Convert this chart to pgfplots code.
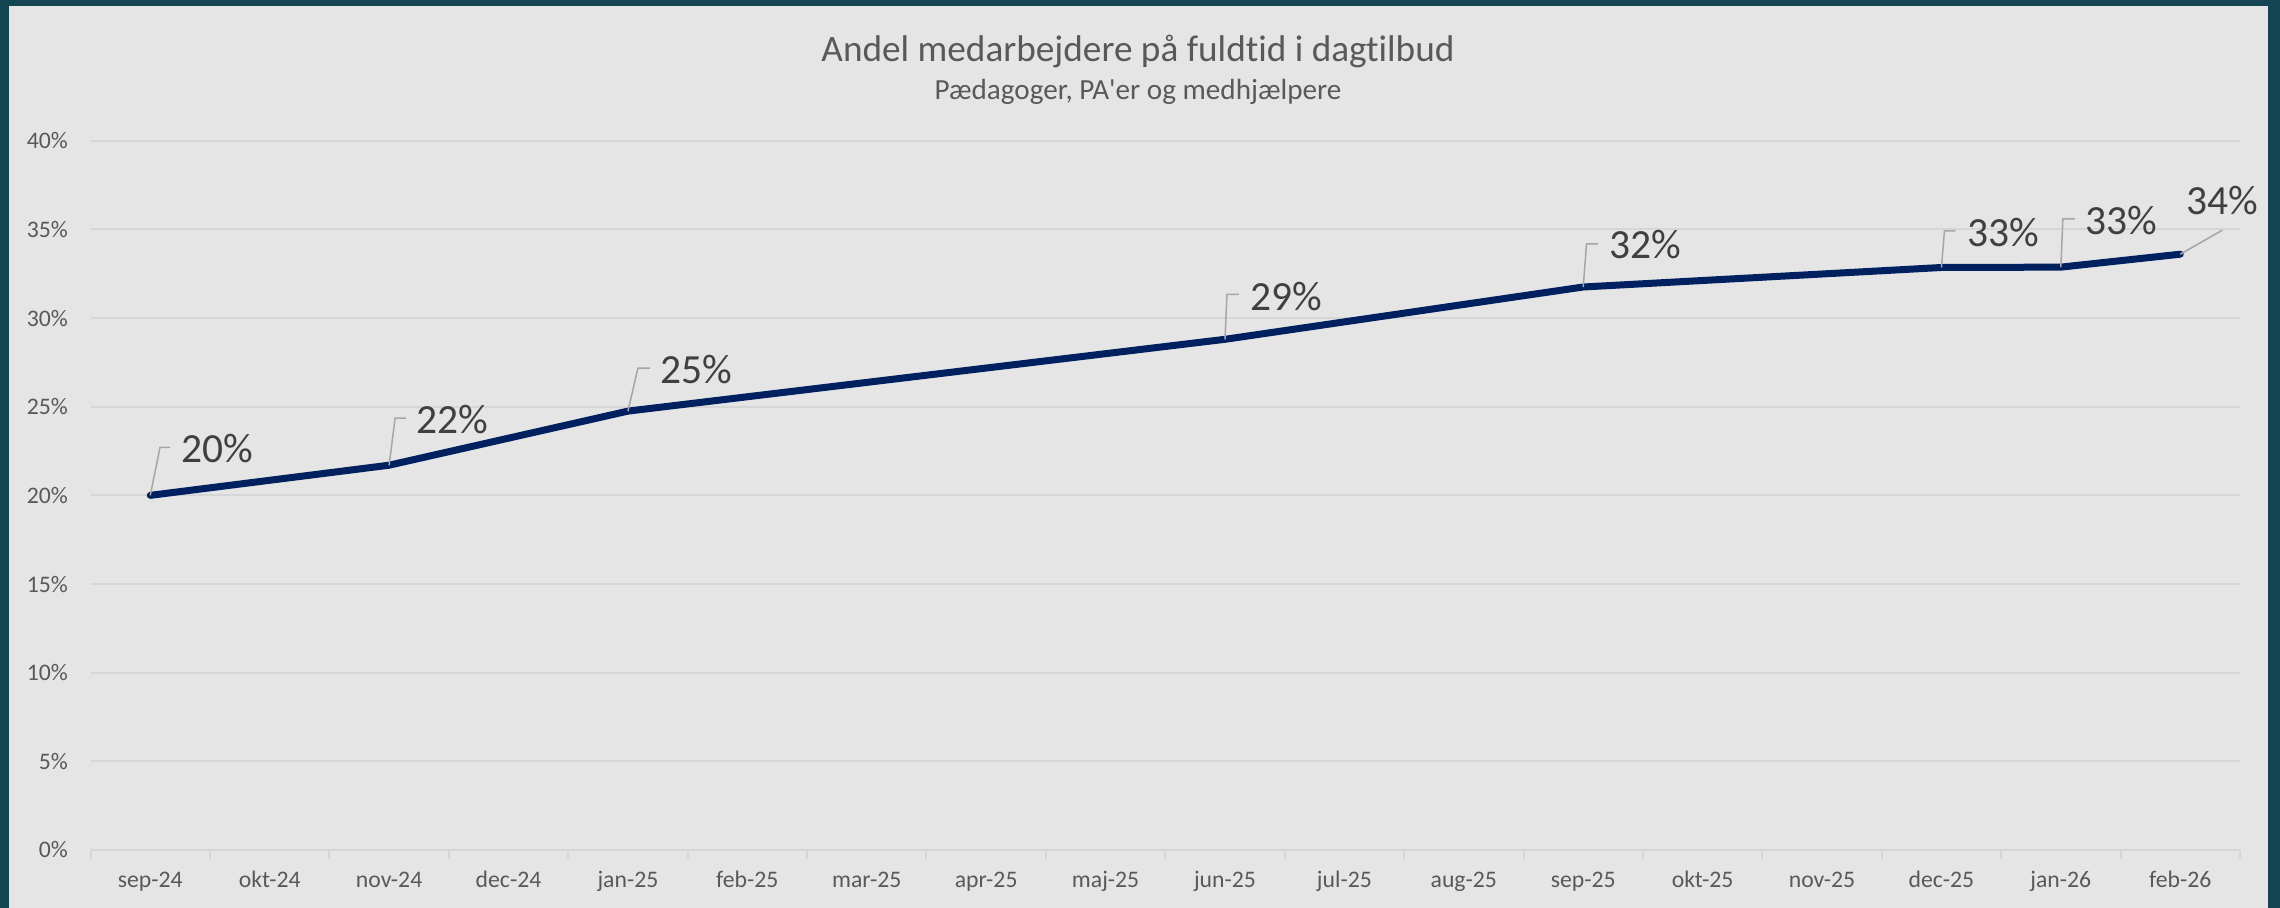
\documentclass[border=0pt]{standalone}
\usepackage{fontspec}
\setmainfont{Carlito}[Ligatures=NoCommon]
\newfontfamily\carlito{Carlito}[Ligatures=NoCommon]
\usepackage{pgfplots}
\pgfplotsset{compat=1.18}
\definecolor{frame}{RGB}{20,69,82}
\definecolor{bg}{RGB}{229,229,229}
\definecolor{gridc}{RGB}{214,214,214}
\definecolor{ticktext}{RGB}{89,89,89}
\definecolor{labeltext}{RGB}{64,64,64}
\definecolor{navy}{RGB}{0,32,96}
\definecolor{leaderc}{RGB}{166,166,166}
\pgfplotstableread{
x y
0 20.0
2 21.7
4 24.75
9 28.8
12 31.75
15 32.85
16 32.87
17 33.6
}\datatable
\begin{document}
\begin{tikzpicture}[x=0.1mm,y=0.1mm,
  leader/.style={draw=leaderc, line width=0.15mm},
  lbl/.style={anchor=base west, inner sep=0pt, text=labeltext, font=\carlito\fontsize{11.8}{13}\selectfont}]
\fill[frame] (0,0) rectangle (2280,908);
\fill[bg] (9,0) rectangle (2268,902);
\useasboundingbox (0,0) rectangle (2280,908);
\node[anchor=base, inner sep=0pt, text=ticktext, font=\carlito\fontsize{10.6}{12}\selectfont] at (1138,846.3) {Andel medarbejdere på fuldtid i dagtilbud};
\node[anchor=base, inner sep=0pt, text=ticktext, font=\carlito\fontsize{8.3}{10}\selectfont] at (1138,808) {Pædagoger, PA'er og medhjælpere};
\begin{axis}[at={(9.06mm,5.8mm)}, anchor=south west, scale only axis,
  width=214.94mm, height=70.93mm,
  xmin=-0.5, xmax=17.5, ymin=0, ymax=40,
  clip=false,
  axis line style={draw=none},
  ytick={0,5,10,15,20,25,30,35,40},
  yticklabels={0\%,5\%,10\%,15\%,20\%,25\%,30\%,35\%,40\%},
  xtick={0,1,...,17},
  xticklabels={sep-24,okt-24,nov-24,dec-24,jan-25,feb-25,mar-25,apr-25,maj-25,jun-25,jul-25,aug-25,sep-25,okt-25,nov-25,dec-25,jan-26,feb-26},
  minor xtick={-0.5,0.5,...,17.5},
  tick pos=left, tick align=outside,
  major tick length=0pt, minor tick length=0.9mm,
  minor x tick style={draw=gridc, line width=0.2mm},
  ymajorgrids, major grid style={draw=gridc, line width=0.2mm},
  ticklabel style={text=ticktext, font=\carlito\fontsize{6.75}{8}\selectfont},
  xticklabel style={anchor=base, inner sep=0pt, yshift=-3.8mm},
  yticklabel style={anchor=east, inner sep=0pt, xshift=-2.2mm},
]
\addplot[navy, line width=0.7mm, line join=round, line cap=round] table[x=x, y=y] {\datatable};
\draw[leader] (axis cs:0,20.0) -- ++(0.97mm,4.8mm) -- ++(1mm,0mm) node[lbl, xshift=1.1mm, yshift=-1.5mm]{20\%};
\draw[leader] (axis cs:2,21.7) -- ++(0.6mm,4.7mm) -- ++(1.1mm,0mm) node[lbl, xshift=1.0mm, yshift=-1.5mm]{22\%};
\draw[leader] (axis cs:4,24.75) -- ++(1.0mm,4.3mm) -- ++(1.2mm,0mm) node[lbl, xshift=1.0mm, yshift=-1.57mm]{25\%};
\draw[leader] (axis cs:9,28.8) -- ++(0.2mm,4.5mm) -- ++(1.2mm,0mm) node[lbl, xshift=1.1mm, yshift=-1.57mm]{29\%};
\draw[leader] (axis cs:12,31.75) -- ++(0.33mm,4.3mm) -- ++(1.17mm,0mm) node[lbl, xshift=1.03mm, yshift=-1.5mm]{32\%};
\draw[leader] (axis cs:15,32.85) -- ++(0.3mm,3.67mm) -- ++(1.1mm,0mm) node[lbl, xshift=1.1mm, yshift=-1.57mm]{33\%};
\draw[leader] (axis cs:16,32.87) -- ++(0.2mm,4.83mm) -- ++(1.2mm,0mm) node[lbl, xshift=1.0mm, yshift=-1.6mm]{33\%};
\draw[leader] (axis cs:17,33.6) -- ++(4.2mm,2.4mm) node[lbl, anchor=base, yshift=1.6mm]{34\%};
\end{axis}
\end{tikzpicture}
\end{document}
